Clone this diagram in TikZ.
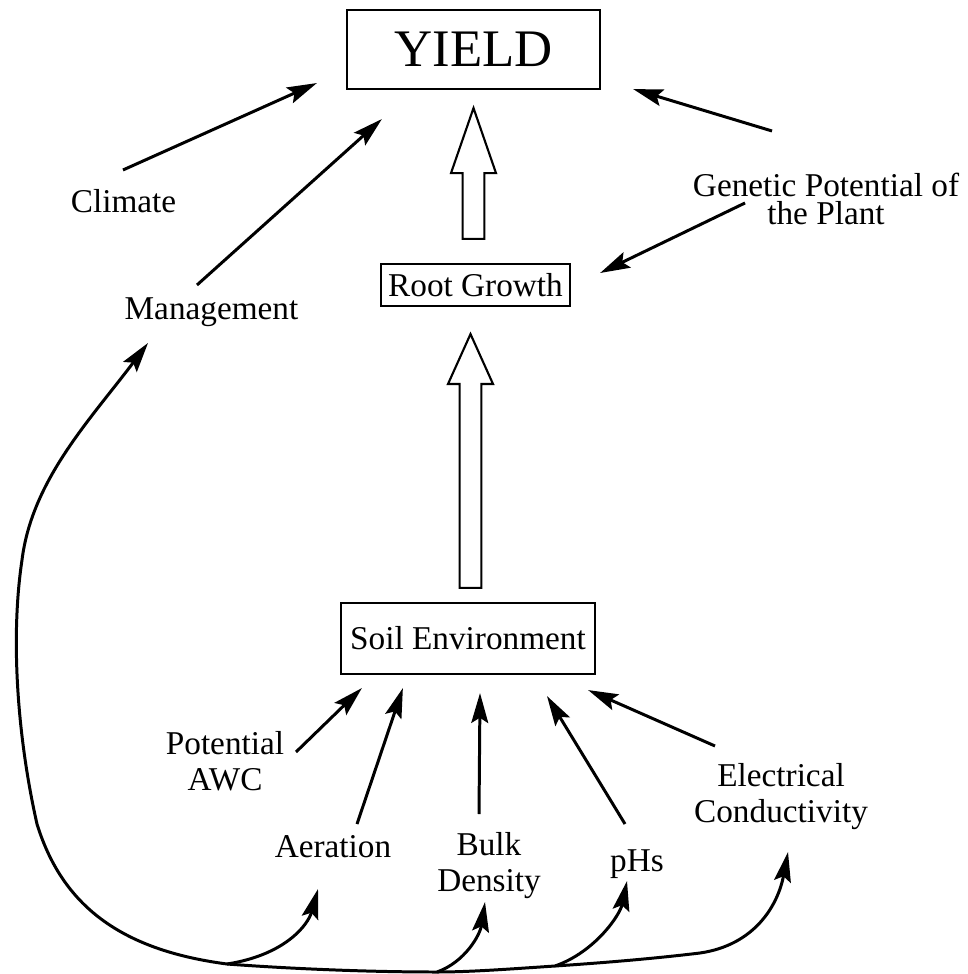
\documentclass[tikz,border=0pt]{standalone}
\usepackage{fontspec}
\setmainfont{Liberation Serif}
\usetikzlibrary{arrows.meta,calc}

% hollow block arrow: tail, tip, head length
\newcommand{\fatarrow}[3]{%
  \draw[fat] let \p1=(#1), \p2=(#2) in
    (\x2-3.1pt,\y1) -- (\x2-3.1pt,\y2-#3) -- (\x2-6.4pt,\y2-#3) -- (\x2,\y2)
    -- (\x2+6.4pt,\y2-#3) -- (\x2+3.1pt,\y2-#3) -- (\x2+3.1pt,\y1) -- cycle;}

\begin{document}
\begin{tikzpicture}[x=0.01cm, y=0.01cm, line width=0.85pt,
    >={Stealth[length=8.5pt, width=4.8pt, inset=1.5pt]},
    box/.style={draw, line width=0.6pt, inner sep=1pt, font=\fontsize{9.46}{10.24}\selectfont},
    lbl/.style={inner sep=0pt, align=center, font=\fontsize{9.46}{10.24}\selectfont},
    fat/.style={draw, fill=white, line width=0.6pt}]
  \useasboundingbox (0,0) rectangle (967,-974);

  % boxes
  \node[box, minimum width=2.53cm, minimum height=0.79cm, font=\fontsize{15}{18}\selectfont] (yield) at (473.5,-49.5) {YIELD};
  \node[box, minimum width=1.89cm, minimum height=0.42cm] (root) at (475.5,-285) {Root Growth};
  \node[box, minimum width=2.54cm, minimum height=0.71cm] (soil) at (468,-638.5) {Soil Environment};

  % factors
  \node[lbl] (climate) at (123.5,-201) {Climate};
  \node[lbl] (mgmt) at (211.5,-312.5) {Management};
  \node[lbl, font=\fontsize{9.46}{8.2}\selectfont] (genetic) at (826,-199) {Genetic Potential of\\the Plant};
  \node[lbl] (potential) at (225,-761.5) {Potential\\AWC};
  \node[lbl] (aeration) at (333,-847) {Aeration};
  \node[lbl] (bulk) at (489,-866) {Bulk\\Density};
  \node[lbl] (phs) at (637,-864) {pHs};
  \node[lbl] (ec) at (781,-797) {Electrical\\Conductivity};

  % block arrows
  \fatarrow{$(root.north)+(-2,24)$}{$(yield.south)+(0,-18)$}{18.5pt}
  \fatarrow{$(soil.north)+(2,14)$}{$(root.south)+(-5,-27)$}{14.2pt}

  % arrows to the boxes
  \draw[->] ($(climate)+(-0.5,31)$) -- ($(yield.south west)+(-29,7)$);
  \draw[->] ($(mgmt)+(-14.5,27.5)$) -- ($(yield.south west)+(36,-29)$);
  \draw[->] ($(genetic)+(-54,68)$) -- ($(yield.south east)+(32,1)$);
  \draw[->] ($(genetic)+(-81,-4)$) -- ($(root.east)+(29,12)$);
  \draw[->] ($(potential)+(71,9.5)$) -- ($(soil.south west)+(22,-13)$);
  \draw[->] ($(aeration)+(24,23)$) -- ($(soil.south west)+(63,-13)$);
  \draw[->] ($(bulk)+(-10,52)$) -- ($(soil.south)+(12,-18)$);
  \draw[->] ($(phs)+(-12,40)$) -- ($(soil.south)+(79,-21)$);
  \draw[->] ($(ec)+(-66,51)$) -- ($(soil.south east)+(-8,-15)$);

  % management feedback
  \coordinate (mgmtIn) at ($(mgmt)+(-63.5,-30.5)$);
  \coordinate (aerIn) at ($(aeration)+(-15,-42)$);
  \coordinate (bulkIn) at ($(bulk)+(-4,-36)$);
  \coordinate (phsIn) at ($(phs)+(-10,-17)$);
  \coordinate (ecIn) at ($(ec)+(7,-55)$);
  \coordinate (j1) at (227,-964);
  \coordinate (j2) at (437,-972);
  \coordinate (j3) at (555,-966);
  \draw[<->] (ecIn) .. controls (778,-905) and (755,-945) .. (700,-953)
    .. controls (650,-959) and (600,-963) .. (j3)
    .. controls (510,-969) and (470,-972) .. (j2)
    .. controls (360,-972) and (280,-968) .. (j1)
    .. controls (120,-950) and (62,-905) .. (37,-824)
    .. controls (18,-740) and (10,-640) .. (22,-560)
    .. controls (32,-480) and (90,-420) .. (mgmtIn);
  \draw[->] (j1) .. controls (285,-955) and (308,-925) .. (aerIn);
  \draw[->] (j2) .. controls (465,-962) and (480,-935) .. (bulkIn);
  \draw[->] (j3) .. controls (595,-952) and (620,-915) .. (phsIn);
\end{tikzpicture}
\end{document}
